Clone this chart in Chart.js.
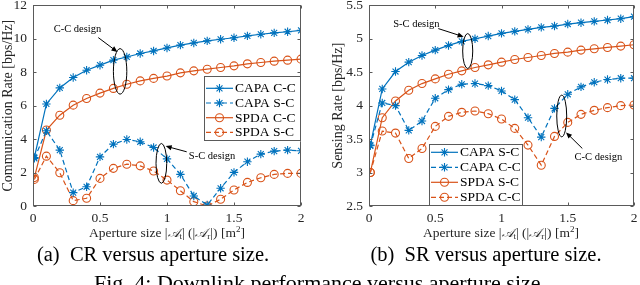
<!DOCTYPE html>
<html><head><meta charset="utf-8">
<script src="https://cdn.jsdelivr.net/npm/chart.js@4.4.1/dist/chart.umd.min.js"></script>
<style>
html,body{margin:0;padding:0;background:#fff;}
body{width:640px;height:285px;overflow:hidden;position:relative;font-family:"Liberation Serif","Times New Roman",serif;color:#262626;}
canvas{position:absolute;top:0;}
#c1{left:0;}
#c2{left:330px;}
.xt{position:absolute;top:225px;font-size:13.5px;line-height:15px;white-space:nowrap;transform:translateX(-50%);}
.xt sub{font-size:9px;vertical-align:-2px;line-height:0;}
.xt sup{font-size:9px;vertical-align:5px;line-height:0;}
.cal{font-family:"DejaVu Serif",serif;font-style:italic;font-size:12.5px;}
.cap{position:absolute;top:244px;font-size:20.5px;line-height:20px;white-space:nowrap;transform:translateX(-50%);color:#000;}
.fig{position:absolute;top:272px;left:320px;font-size:22px;line-height:22px;white-space:nowrap;transform:translateX(-50%);color:#000;}
</style>
</head><body>
<canvas id="c1" width="310" height="225"></canvas>
<canvas id="c2" width="310" height="225"></canvas>
<div class="xt" style="left:167px">Aperture size |<span class="cal">𝒜</span><sub>t</sub>| (|<span class="cal">𝒜</span><sub>r</sub>|) [m<sup>2</sup>]</div>
<div class="xt" style="left:501px">Aperture size |<span class="cal">𝒜</span><sub>t</sub>| (|<span class="cal">𝒜</span><sub>r</sub>|) [m<sup>2</sup>]</div>
<div class="cap" style="left:153px">(a)&nbsp; CR versus aperture size.</div>
<div class="cap" style="left:486px">(b)&nbsp; SR versus aperture size.</div>
<div class="fig">Fig. 4: Downlink performance versus aperture size.</div>
<script>
// ---------- data ----------
const xValues = [0.01,0.1,0.2,0.3,0.4,0.5,0.6,0.7,0.8,0.9,1.0,1.1,1.2,1.3,1.4,1.5,1.6,1.7,1.8,1.9,2.0];

// (a) Communication rate [bps/Hz]
const crCapaCC = [2.9,6.1,7.06,7.68,8.12,8.42,8.72,8.91,9.12,9.27,9.45,9.62,9.75,9.87,9.97,10.06,10.17,10.27,10.35,10.42,10.5];
const crCapaSC = [2.85,4.5,3.34,0.8,1.15,2.94,3.7,3.98,3.84,3.5,2.82,1.89,0.6,0.06,1.06,2.01,2.65,3.1,3.28,3.34,3.3];
const crSpdaCC = [1.7,4.54,5.43,6.03,6.43,6.75,7.03,7.28,7.48,7.63,7.77,7.96,8.08,8.18,8.28,8.38,8.5,8.58,8.66,8.72,8.78];
const crSpdaSC = [1.59,2.98,1.99,0.32,0.46,1.65,2.25,2.5,2.4,2.09,1.55,0.91,0.26,0.0,0.4,0.96,1.41,1.69,1.89,1.95,1.95];

// (b) Sensing rate [bps/Hz]
const srCapaSC = [3.41,4.25,4.51,4.65,4.75,4.83,4.9,4.96,5.0,5.04,5.08,5.11,5.14,5.17,5.19,5.22,5.24,5.26,5.28,5.3,5.33];
const srCapaCC = [3.4,4.04,4.0,3.63,3.77,4.11,4.24,4.32,4.33,4.3,4.22,4.09,3.82,3.53,3.96,4.17,4.28,4.35,4.39,4.41,4.41];
const srSpdaSC = [3.0,3.82,4.07,4.23,4.33,4.4,4.47,4.52,4.57,4.61,4.65,4.69,4.72,4.75,4.78,4.8,4.83,4.85,4.87,4.89,4.91];
const srSpdaCC = [3.0,3.62,3.59,3.21,3.36,3.69,3.84,3.9,3.92,3.88,3.8,3.66,3.41,3.11,3.54,3.75,3.87,3.93,3.97,4.0,4.01];

const crLabels = ['CAPA C-C','CAPA S-C','SPDA C-C','SPDA S-C'];
const srLabels = ['CAPA S-C','CAPA C-C','SPDA S-C','SPDA C-C'];
const crYTitle = 'Communication Rate [bps/Hz]';
const srYTitle = 'Sensing Rate [bps/Hz]';

// annotations in data coordinates
const crNotes = [
  {text:'C-C design', tx:0.332, ty:10.57, ax0:0.487, ay0:10.07, ax1:0.63, ay1:9.21, ex0:0.6, ex1:0.7, ey0:9.41, ey1:6.69},
  {text:'S-C design', tx:1.336, ty:2.99, ax0:1.147, ay0:3.24, ax1:0.99, ay1:3.58, ex0:0.918, ex1:0.998, ey0:3.74, ey1:1.36}
];
const srNotes = [
  {text:'S-C design', tx:0.358, ty:5.216, ax0:0.523, ay0:5.152, ax1:0.714, ay1:5.03, ex0:0.707, ex1:0.783, ey0:5.078, ey1:4.555},
  {text:'C-C design', tx:1.731, ty:3.224, ax0:1.61, ay0:3.36, ax1:1.487, ay1:3.6, ex0:1.417, ex1:1.492, ey0:4.157, ey1:3.534}
];

// ---------- styles ----------
const BLUE = '#0072BD', ORANGE = '#D95319', AX = '#262626';
const FONT = 'Liberation Serif';
const fmt = v => String(Number(v.toFixed(3)));

function ds(label, values, kind, dashed){
  const c = kind === 'capa' ? BLUE : ORANGE;
  return {
    label,
    data: xValues.map((x,i)=>({x, y: values[i]})),
    borderColor: c, borderWidth: 1.2,
    borderDash: dashed ? [5,3] : [],
    pointStyle: kind === 'capa' ? 'star' : 'circle',
    pointRadius: kind === 'capa' ? 4.2 : 4,
    pointBorderWidth: 1.1,
    pointBorderColor: c,
    pointBackgroundColor: kind === 'capa' ? c : 'rgba(0,0,0,0)',
    tension: 0, fill: false
  };
}

const framePlugin = {
  id: 'frame',
  afterDatasetsDraw(chart){
    const {ctx, chartArea:a, scales} = chart;
    ctx.save();
    ctx.strokeStyle = '#5a5a5a'; ctx.lineWidth = 1;
    const L = Math.round(a.left)+0.5, R = Math.round(a.right)-0.5, T = Math.round(a.top)+0.5, B = Math.round(a.bottom)-0.5;
    ctx.strokeRect(L, T, R-L, B-T);
    ctx.beginPath();
    scales.x.ticks.forEach(t=>{
      const px = Math.round(scales.x.getPixelForValue(t.value))+0.5;
      ctx.moveTo(px,B); ctx.lineTo(px,B-3);
      ctx.moveTo(px,T); ctx.lineTo(px,T+3);
    });
    scales.y.ticks.forEach(t=>{
      const py = Math.round(scales.y.getPixelForValue(t.value))+0.5;
      ctx.moveTo(L,py); ctx.lineTo(L+3,py);
      ctx.moveTo(R,py); ctx.lineTo(R-3,py);
    });
    ctx.stroke();
    ctx.restore();
  }
};

function drawMarker(ctx, d, x, y){
  ctx.save();
  ctx.strokeStyle = d.pointBorderColor; ctx.lineWidth = d.pointBorderWidth; ctx.setLineDash([]);
  const r = d.pointRadius;
  ctx.beginPath();
  if (d.pointStyle === 'star'){
    for (let k=0;k<4;k++){
      const ang = k*Math.PI/4;
      ctx.moveTo(x - r*Math.cos(ang), y - r*Math.sin(ang));
      ctx.lineTo(x + r*Math.cos(ang), y + r*Math.sin(ang));
    }
    ctx.stroke();
  } else {
    ctx.arc(x,y,r,0,Math.PI*2);
    ctx.stroke();
  }
  ctx.restore();
}

function legendPlugin(box){
  return {
    id: 'mlegend',
    afterDraw(chart){
      const {ctx, chartArea:a} = chart;
      const x0 = a.left + box.dx, y0 = a.top + box.dy;
      ctx.save();
      ctx.fillStyle = '#fff';
      ctx.fillRect(x0, y0, box.w, box.h);
      ctx.strokeStyle = '#5a5a5a'; ctx.lineWidth = 1;
      ctx.strokeRect(Math.round(x0)+0.5, Math.round(y0)+0.5, box.w-1, box.h-1);
      chart.data.datasets.forEach((d,i)=>{
        const yy = y0 + box.first + i*box.step;
        ctx.save();
        ctx.strokeStyle = d.borderColor; ctx.lineWidth = d.borderWidth;
        ctx.setLineDash(d.borderDash);
        ctx.beginPath(); ctx.moveTo(x0+2, yy); ctx.lineTo(x0+29, yy); ctx.stroke();
        ctx.restore();
        drawMarker(ctx, d, x0+15.5, yy);
        ctx.fillStyle = '#000';
        ctx.font = '13.5px "' + FONT + '"';
        ctx.textBaseline = 'middle'; ctx.textAlign = 'left';
        ctx.fillText(d.label, x0+31, yy+0.5);
      });
      ctx.restore();
    }
  };
}

function notesPlugin(notes){
  return {
    id: 'notes',
    afterDraw(chart){
      const {ctx, scales:{x, y}} = chart;
      ctx.save();
      ctx.strokeStyle = '#000'; ctx.fillStyle = '#000'; ctx.lineWidth = 1;
      notes.forEach(n=>{
        const ex0 = x.getPixelForValue(n.ex0), ex1 = x.getPixelForValue(n.ex1);
        const ey0 = y.getPixelForValue(n.ey0), ey1 = y.getPixelForValue(n.ey1);
        ctx.beginPath();
        ctx.ellipse((ex0+ex1)/2, (ey0+ey1)/2, Math.abs(ex1-ex0)/2, Math.abs(ey1-ey0)/2, 0, 0, Math.PI*2);
        ctx.stroke();
        const ax0 = x.getPixelForValue(n.ax0), ay0 = y.getPixelForValue(n.ay0);
        const ax1 = x.getPixelForValue(n.ax1), ay1 = y.getPixelForValue(n.ay1);
        const ang = Math.atan2(ay1-ay0, ax1-ax0);
        const hl = 6, hw = 2.6;
        ctx.beginPath(); ctx.moveTo(ax0, ay0);
        ctx.lineTo(ax1 - hl*0.8*Math.cos(ang), ay1 - hl*0.8*Math.sin(ang)); ctx.stroke();
        ctx.beginPath();
        ctx.moveTo(ax1, ay1);
        ctx.lineTo(ax1 - hl*Math.cos(ang) + hw*Math.sin(ang), ay1 - hl*Math.sin(ang) - hw*Math.cos(ang));
        ctx.lineTo(ax1 - hl*Math.cos(ang) - hw*Math.sin(ang), ay1 - hl*Math.sin(ang) + hw*Math.cos(ang));
        ctx.closePath(); ctx.fill();
        ctx.font = '10.5px "' + FONT + '"';
        ctx.textAlign = 'center'; ctx.textBaseline = 'middle';
        ctx.fillText(n.text, x.getPixelForValue(n.tx), y.getPixelForValue(n.ty));
      });
      ctx.restore();
    }
  };
}

function makeChart(id, datasets, yMin, yMax, yStep, yTitle, yWidth, padRight, notes, legendBox){
  return new Chart(document.getElementById(id), {
    type: 'line',
    data: { datasets },
    options: {
      responsive: false, animation: false,
      layout: { padding: { top: 5, right: padRight, bottom: 0, left: 0 } },
      plugins: { legend: { display: false }, tooltip: { enabled: false } },
      scales: {
        x: {
          type: 'linear', min: 0, max: 2,
          ticks: { stepSize: 0.5, padding: 4, color: AX, maxRotation: 0, font: { family: FONT, size: 13.5 }, callback: v => fmt(v) },
          grid: { display: false, drawTicks: false }, border: { display: false },
          afterFit(s){ s.height = 19; s.paddingLeft = 0; s.paddingRight = 0; }
        },
        y: {
          type: 'linear', min: yMin, max: yMax,
          ticks: { stepSize: yStep, padding: 6, color: AX, font: { family: FONT, size: 13.5 }, callback: v => fmt(v) },
          grid: { display: false, drawTicks: false }, border: { display: false },
          title: { display: true, text: yTitle, color: AX, padding: { top: 0, bottom: 0 }, font: { family: FONT, size: 14 } },
          afterFit(s){ s.width = yWidth; s.paddingTop = 0; s.paddingBottom = 0; }
        }
      }
    },
    plugins: [framePlugin, notesPlugin(notes), legendPlugin(legendBox)]
  });
}

makeChart('c1', [
  ds(crLabels[0], crCapaCC, 'capa', false),
  ds(crLabels[1], crCapaSC, 'capa', true),
  ds(crLabels[2], crSpdaCC, 'spda', false),
  ds(crLabels[3], crSpdaSC, 'spda', true)
], 0, 12, 2, crYTitle, 33, 9, crNotes, {dx:171, dy:71, w:97, h:65, first:12, step:14.7});

makeChart('c2', [
  ds(srLabels[0], srCapaSC, 'capa', false),
  ds(srLabels[1], srCapaCC, 'capa', true),
  ds(srLabels[2], srSpdaSC, 'spda', false),
  ds(srLabels[3], srSpdaCC, 'spda', true)
], 2.5, 5.5, 0.5, srYTitle, 39, 6, srNotes, {dx:60, dy:139, w:94, h:62, first:8, step:15});
</script>
</body></html>
